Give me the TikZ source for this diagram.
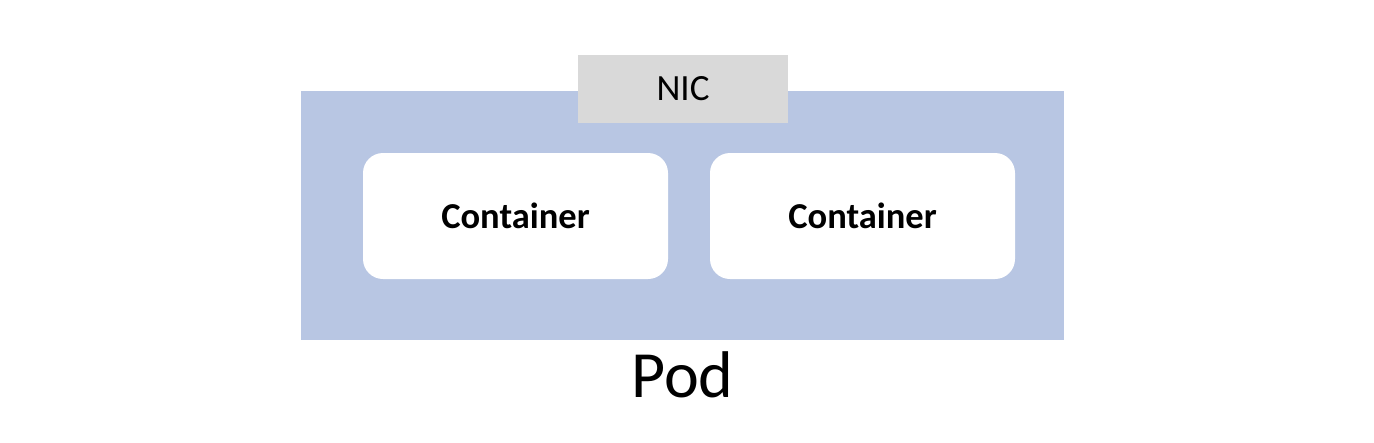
\documentclass[tikz,border=0pt]{standalone}
\usepackage{fontspec}
\setmainfont{Carlito}
\usetikzlibrary{positioning}
\definecolor{podblue}{HTML}{B8C6E3}
\definecolor{nicgray}{HTML}{D9D9D9}

\begin{document}
\begin{tikzpicture}[x=1pt, y=-1pt,
    podbox/.style={fill=podblue, inner sep=0pt, minimum width=763pt, minimum height=249pt},
    nicbox/.style={fill=nicgray, inner sep=0pt, minimum width=210pt, minimum height=68pt, font=\fontsize{37}{44}\selectfont},
    ctrbox/.style={fill=white, rounded corners=20pt, inner sep=0pt, minimum width=305pt, minimum height=126pt, font=\fontsize{36.5}{44}\selectfont\bfseries}]
    \useasboundingbox (0,0) rectangle (1374,442);

    \node[podbox] (pod) at (682.5,215.5) {};
    \node[nicbox] (nic) at (683,89) {NIC};

    \node[ctrbox] (ctr1) at (515.5,216) {Container};
    \node[ctrbox] (ctr2) at (862.5,216) {Container};

    \node[font=\fontsize{66}{76}\selectfont, below=8pt of pod] (podlabel) {Pod};
  \end{tikzpicture}
\end{document}
